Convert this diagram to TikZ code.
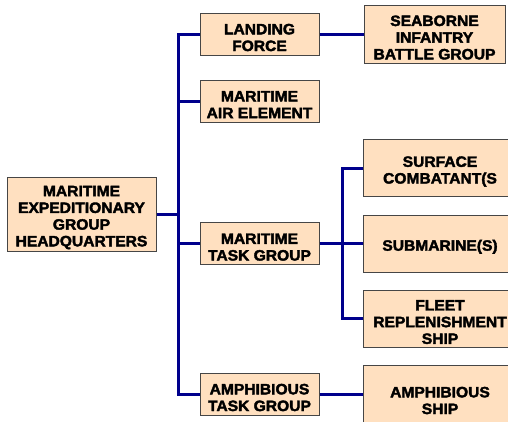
\documentclass[tikz,border=0pt]{standalone}
\usepackage{fontspec}
\newfontfamily\boxfont[FakeStretch=1.04,BoldFeatures={FakeBold=2.5}]{Liberation Sans}
\definecolor{boxfill}{RGB}{255,224,192}
\definecolor{boxline}{RGB}{70,70,70}
\definecolor{navy}{RGB}{0,0,140}
\newcommand\topstrut{\rule{0pt}{17.5pt}}
\begin{document}
\begin{tikzpicture}[x=1pt,y=-1pt,
  orgbox/.style={draw=boxline,line width=1pt,fill=boxfill,align=center,inner sep=0pt,
    font=\boxfont\bfseries\fontsize{15}{16.7}\selectfont},
  midbox/.style={orgbox,minimum width=119pt,minimum height=42pt},
  rightbox/.style={orgbox,minimum width=154pt,minimum height=57pt},
  conn/.style={draw=navy,line width=3pt}]
\useasboundingbox (0,0) rectangle (508,421);
\node[orgbox,minimum width=149pt,minimum height=74pt] (hq) at (81.5,214) {\topstrut MARITIME\\EXPEDITIONARY\\GROUP\\HEADQUARTERS};
\node[midbox] (lf) at (259.5,34) {\topstrut LANDING\\FORCE};
\node[midbox] (mae) at (259.5,101) {\topstrut MARITIME\\AIR ELEMENT};
\node[midbox] (mtg) at (259.5,243.5) {\topstrut MARITIME\\TASK GROUP};
\node[midbox] (atg) at (259.5,394) {\topstrut AMPHIBIOUS\\TASK GROUP};
\node[orgbox,minimum width=141pt,minimum height=58pt] (sibg) at (434.5,34) {\topstrut SEABORNE\\INFANTRY\\BATTLE GROUP};
\node[rightbox] (sc) at (440,168) {\topstrut SURFACE\\COMBATANT(S};
\node[rightbox] (sub) at (440,243.5) {\topstrut SUBMARINE(S)};
\node[rightbox] (frs) at (440,318.5) {\topstrut FLEET\\REPLENISHMENT\\SHIP};
\node[rightbox,minimum height=64pt] (as) at (440,397) {\topstrut AMPHIBIOUS\\SHIP};
\coordinate (bus1) at (178,0);
\coordinate (bus2) at (342,0);
% main bus
\draw[conn] (lf.west) -- (lf.west -| bus1) -- (atg.west -| bus1) -- (atg.west);
\draw[conn] (mae.west) -- (mae.west -| bus1);
\draw[conn] (mtg.west) -- (mtg.west -| bus1);
\draw[conn] (hq.east) -- (hq.east -| bus1);
% direct links
\draw[conn] (lf.east) -- (sibg.west |- lf.east);
\draw[conn] (atg.east) -- (as.west |- atg.east);
% second bus
\draw[conn] (mtg.east) -- (sub.west |- mtg.east);
\draw[conn] (sc.west) -- (sc.west -| bus2) -- (frs.west -| bus2) -- (frs.west);
\end{tikzpicture}
\end{document}
